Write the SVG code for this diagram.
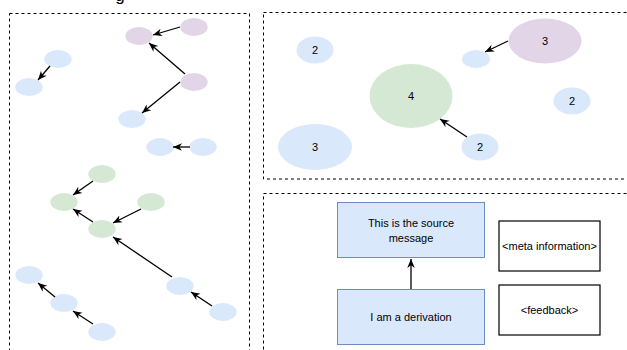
<svg xmlns="http://www.w3.org/2000/svg" width="627" height="350" viewBox="0 0 627 350">
  <style>
    .panel { fill: none; stroke: #000; stroke-width: 1; stroke-dasharray: 3 3; }
    .blue { fill: #dae8fc; }
    .green { fill: #d5e8d4; }
    .purple { fill: #e1d5e7; }
    .edge { fill: none; stroke: #000; stroke-width: 1.3; marker-end: url(#arrow); }
    .box { fill: #dae8fc; stroke: #6c8ebf; stroke-width: 1; }
    .plain { fill: #fff; stroke: #000; stroke-width: 1.2; }
    text { font-family: "Liberation Sans", Arial, Helvetica, sans-serif; font-size: 11px; fill: #000; text-anchor: middle; dominant-baseline: central; }
  </style>
  <defs>
    <marker id="arrow" viewBox="0 0 10 10" refX="10" refY="5" markerWidth="9" markerHeight="9" orient="auto" markerUnits="userSpaceOnUse">
      <path d="M0,0.8 L10,5 L0,9.2 L3,5 z" fill="#000"/>
    </marker>
  </defs>

  <rect width="627" height="350" fill="#fff"/>

  <!-- title descender peeking in at the top edge -->
  <text x="120" y="-5" style="font-size:17px">g</text>

  <!-- dashed panels -->
  <g id="panels">
    <rect class="panel" x="9.5" y="13.5" width="240" height="400"/>
    <rect class="panel" x="263.5" y="12.5" width="400" height="166.5"/>
    <rect class="panel" x="263.5" y="193.5" width="400" height="200"/>
  </g>

  <!-- left panel: small message clusters -->
  <g id="n-a"><ellipse class="purple" cx="139" cy="36" rx="13.7" ry="9"/></g>
  <g id="n-b"><ellipse class="purple" cx="194" cy="27" rx="13.7" ry="9"/></g>
  <g id="n-c"><ellipse class="purple" cx="194" cy="82" rx="13.7" ry="9"/></g>
  <g id="n-d"><ellipse class="blue" cx="58" cy="59" rx="13.7" ry="9"/></g>
  <g id="n-e"><ellipse class="blue" cx="29" cy="87" rx="13.7" ry="9"/></g>
  <g id="n-f"><ellipse class="blue" cx="132" cy="119" rx="13.7" ry="9"/></g>
  <g id="n-g"><ellipse class="blue" cx="160" cy="147" rx="13.7" ry="9"/></g>
  <g id="n-h"><ellipse class="blue" cx="203" cy="147" rx="13.7" ry="9"/></g>
  <g id="n-i"><ellipse class="green" cx="102" cy="174" rx="13.7" ry="9"/></g>
  <g id="n-j"><ellipse class="green" cx="64" cy="202" rx="13.7" ry="9"/></g>
  <g id="n-k"><ellipse class="green" cx="151" cy="202" rx="13.7" ry="9"/></g>
  <g id="n-l"><ellipse class="green" cx="102" cy="229" rx="13.7" ry="9"/></g>
  <g id="n-m"><ellipse class="blue" cx="29" cy="275" rx="13.7" ry="9"/></g>
  <g id="n-n"><ellipse class="blue" cx="180" cy="286" rx="13.7" ry="9"/></g>
  <g id="n-o"><ellipse class="blue" cx="64" cy="303" rx="13.7" ry="9"/></g>
  <g id="n-p"><ellipse class="blue" cx="223" cy="312" rx="13.7" ry="9"/></g>
  <g id="n-q"><ellipse class="blue" cx="102" cy="332" rx="13.7" ry="9"/></g>

  <!-- top-right panel: weighted clusters -->
  <g id="w-blue2a"><ellipse class="blue" cx="315" cy="50" rx="18.5" ry="13.5"/><text x="315" y="50">2</text></g>
  <g id="w-green4"><ellipse class="green" cx="411" cy="96" rx="41.5" ry="32"/><text x="411" y="96">4</text></g>
  <g id="w-small"><ellipse class="blue" cx="476" cy="59" rx="14" ry="9"/></g>
  <g id="w-purple3"><ellipse class="purple" cx="545" cy="41" rx="36.5" ry="22.5"/><text x="545" y="41">3</text></g>
  <g id="w-blue2b"><ellipse class="blue" cx="572" cy="101" rx="18.5" ry="13.5"/><text x="572" y="101">2</text></g>
  <g id="w-blue3"><ellipse class="blue" cx="315" cy="147" rx="37" ry="23"/><text x="315" y="147">3</text></g>
  <g id="w-blue2c"><ellipse class="blue" cx="480" cy="147" rx="18.5" ry="13.5"/><text x="480" y="147">2</text></g>

  <!-- bottom-right panel: message boxes -->
  <g id="source">
    <rect class="box" x="337.5" y="202.5" width="147" height="55"/>
    <text x="411" y="223">This is the source</text>
    <text x="411" y="238">message</text>
  </g>
  <g id="derivation">
    <rect class="box" x="337.5" y="289.5" width="147" height="55"/>
    <text x="411" y="317">I am a derivation</text>
  </g>
  <g id="meta">
    <rect class="plain" x="499" y="221" width="101" height="50"/>
    <text x="549.5" y="246">&lt;meta information&gt;</text>
  </g>
  <g id="feedback">
    <rect class="plain" x="499" y="285" width="101" height="50"/>
    <text x="549.5" y="310">&lt;feedback&gt;</text>
  </g>

  <!-- connectors -->
  <g id="connectors">
    <line class="edge" x1="180" y1="27" x2="153" y2="35"/>
    <line class="edge" x1="185" y1="74" x2="149" y2="43"/>
    <line class="edge" x1="180" y1="82" x2="142" y2="113"/>
    <line class="edge" x1="50" y1="66" x2="38" y2="80"/>
    <line class="edge" x1="190" y1="147" x2="173" y2="147"/>
    <line class="edge" x1="93" y1="181" x2="73" y2="195"/>
    <line class="edge" x1="93" y1="222" x2="73" y2="209"/>
    <line class="edge" x1="141" y1="209" x2="113" y2="223"/>
    <line class="edge" x1="172" y1="277" x2="113" y2="237"/>
    <line class="edge" x1="55" y1="297" x2="38" y2="283"/>
    <line class="edge" x1="93" y1="324" x2="73" y2="311"/>
    <line class="edge" x1="212" y1="306" x2="191" y2="292"/>
    <line class="edge" x1="508" y1="41" x2="485" y2="52"/>
    <line class="edge" x1="467" y1="137" x2="440" y2="119"/>
    <line class="edge" x1="411" y1="289" x2="411" y2="259"/>
  </g>
</svg>
